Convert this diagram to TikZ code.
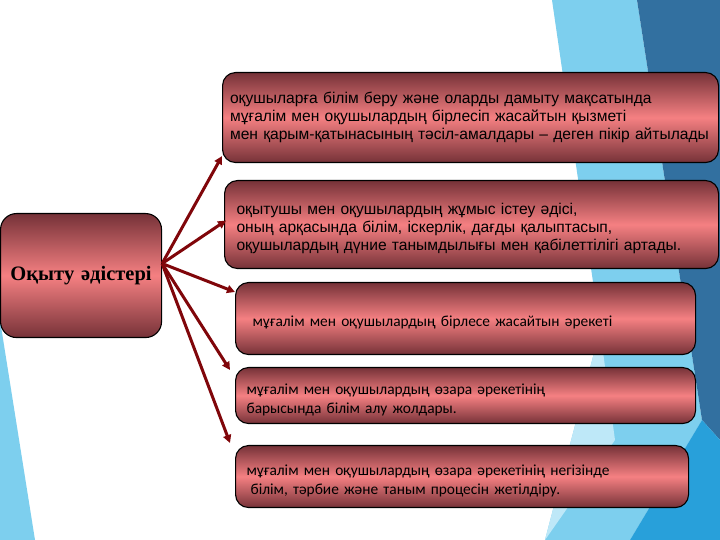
\documentclass[tikz,border=0pt]{standalone}
\usepackage{fontspec}
\usepackage{tikz}
\usepackage{xcolor}
\usetikzlibrary{arrows.meta}
\setmainfont{Liberation Sans}
\newfontfamily\narrowfont{Carlito}
\newfontfamily\titlefont{Liberation Serif}

\definecolor{boxdark}{RGB}{118,50,56}
\definecolor{boxlight}{RGB}{245,128,130}
\definecolor{arrowred}{RGB}{128,6,10}
\definecolor{facetdark}{RGB}{50,112,160}
\definecolor{facetlight}{RGB}{125,207,238}
\definecolor{facetmid}{RGB}{40,160,218}
\definecolor{facetpale}{RGB}{190,232,248}

\tikzset{
  methodbox/.style={draw=black, line width=1.1pt, rounded corners=13pt,
    top color=boxdark, bottom color=boxdark, middle color=boxlight,
    anchor=north west, align=left, text=black},
  link/.style={-{Triangle[length=8pt,width=8pt]}, line width=3pt, draw=arrowred}
}

\begin{document}
\begin{tikzpicture}[x=1pt,y=1pt]
        \useasboundingbox (0,0) rectangle (720,540);
        \fill[white] (0,0) rectangle (720,540);

        % Draw background facets
        \fill[facetlight] (552,540) -- (637,540) -- (702,120) -- (630,0) -- (545,0) -- (600,210) -- cycle;
        \fill[facetpale] (545,0) -- (600,210) -- (615,100) -- cycle;
        \fill[facetdark] (637,540) -- (720,540) -- (720,100) -- (702,120) -- cycle;
        \fill[facetmid] (702,120) -- (720,100) -- (720,0) -- (630,0) -- cycle;
        \fill[facetlight] (0,220) -- (35,0) -- (0,0) -- cycle;

        % Draw the main box
        \node[methodbox, anchor=north west, align=center, inner xsep=2pt, text width=157pt,
              minimum height=124pt, rounded corners=16pt,
              font=\titlefont\bfseries\fontsize{20.5}{24}\selectfont] (method) at (0,327) {Оқыту әдістері};
        \coordinate (hub) at ([yshift=12pt]method.east);

        % Draw the method boxes
        \node[methodbox, inner xsep=7.5pt, text width=481pt, minimum height=90pt,
              font=\fontsize{15.6}{18}\selectfont] (b1) at (222,468)
              {оқушыларға білім беру және оларды дамыту мақсатында\\
               мұғалім мен оқушылардың бірлесіп жасайтын қызметі\\
               мен қарым-қатынасының тәсіл-амалдары – деген пікір айтылады};
        \node[methodbox, inner xsep=12pt, text width=470pt, minimum height=88pt, text height=20pt,
              font=\fontsize{15.6}{18}\selectfont] (b2) at (224,360)
              {оқытушы мен оқушылардың жұмыс істеу әдісі,\\
               оның арқасында білім, іскерлік, дағды қалыптасып,\\
               оқушылардың дүние танымдылығы мен қабілеттілігі артады.};
        \node[methodbox, inner xsep=17pt, text width=426pt, minimum height=72pt, text height=19pt,
              font=\narrowfont\fontsize{15.4}{19}\selectfont] (b3) at (235,258)
              {мұғалім мен оқушылардың бірлесе жасайтын әрекеті};
        \node[methodbox, inner xsep=11pt, text width=438pt, minimum height=56pt, text height=19pt,
              font=\narrowfont\fontsize{15.4}{19}\selectfont] (b4) at (235,173)
              {мұғалім мен оқушылардың өзара әрекетінің\\
               барысында білім алу жолдары.};
        \node[methodbox, inner xsep=11pt, text width=431pt, minimum height=62pt, text height=19pt,
              font=\narrowfont\fontsize{15.4}{19}\selectfont] (b5) at (235,95)
              {мұғалім мен оқушылардың өзара әрекетінің негізінде\\
               \hspace*{4pt}білім, тәрбие және таным процесін жетілдіру.};

        % Draw arrows
        \draw[link] (hub) -- ([shift={(0pt,7pt)}]b1.south west);
        \draw[link] (hub) -- ([shift={(2pt,4pt)}]b2.west);
        \draw[link] (hub) -- ([shift={(0pt,-10pt)}]b3.north west);
        \draw[link] (hub) -- ([shift={(-5pt,-3pt)}]b4.north west);
        \draw[link] (hub) -- ([shift={(-5pt,2pt)}]b5.north west);
    \end{tikzpicture}
\end{document}
